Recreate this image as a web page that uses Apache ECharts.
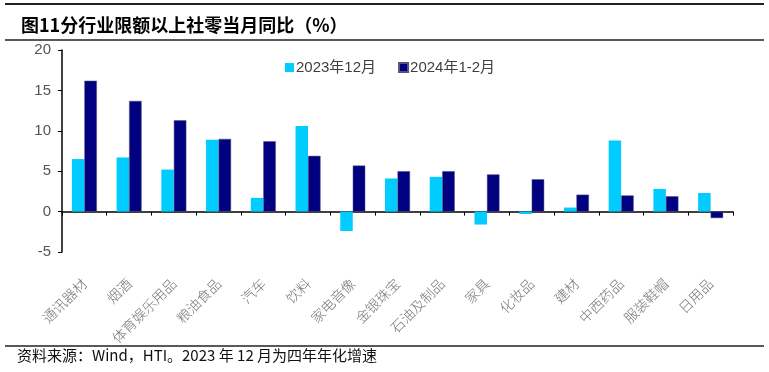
<!DOCTYPE html>
<html><head><meta charset="utf-8">
<script src="https://cdn.jsdelivr.net/npm/echarts@6/dist/echarts.min.js"></script>
<style>html,body{margin:0;padding:0;background:#fff}#c{width:769px;height:372px}</style>
</head><body><div id="c"></div>
<script>
const categories = ['通讯器材','烟酒','体育娱乐用品','粮油食品','汽车','饮料','家电音像','金银珠宝','石油及制品','家具','化妆品','建材','中西药品','服装鞋帽','日用品'];
const dec2023 = [6.5, 6.7, 5.2, 8.9, 1.7, 10.6, -2.4, 4.1, 4.3, -1.6, -0.3, 0.5, 8.8, 2.8, 2.3];
const janFeb2024 = [16.2, 13.7, 11.3, 9.0, 8.7, 6.9, 5.7, 5.0, 5.0, 4.6, 4.0, 2.1, 2.0, 1.9, -0.8];
const seriesNames = ['2023年12月', '2024年1-2月'];
const yTicks = {min: -5, max: 20, interval: 5};

const chart = echarts.init(document.getElementById('c'), null, {renderer: 'canvas'});
chart.setOption({
  animation: false,
  backgroundColor: '#fff',
  title: {
    text: '图11分行业限额以上社零当月同比（%）',
    left: 16, top: 11,
    textStyle: {fontFamily: 'Noto Sans CJK SC', fontSize: 18, fontWeight: 'bold', color: '#000'}
  },
  graphic: [
    {type: 'line', shape: {x1: 5, y1: 4, x2: 764, y2: 4}, style: {stroke: '#222', lineWidth: 2}},
    {type: 'line', shape: {x1: 5, y1: 40, x2: 764, y2: 40}, style: {stroke: '#222', lineWidth: 1.5}},
    {type: 'line', shape: {x1: 5, y1: 346, x2: 764, y2: 346}, style: {stroke: '#222', lineWidth: 1.5}},
    {type: 'text', left: 17, top: 348, style: {text: '资料来源：Wind，HTI。2023 年 12 月为四年年化增速', font: '15px "Noto Sans CJK SC"', fill: '#111'}}
  ],
  legend: {
    data: seriesNames,
    left: 280, top: 55,
    itemWidth: 9, itemHeight: 9, itemGap: 22,
    icon: 'rect',
    textStyle: {fontFamily: 'Liberation Sans, Noto Sans CJK SC', fontSize: 15, color: '#404040', padding: [0,0,0,-3]}
  },
  grid: {left: 62, right: 36, top: 50, bottom: 120},
  xAxis: {
    type: 'category',
    data: categories,
    axisLine: {onZero: true, lineStyle: {color: '#000', width: 1.5}},
    axisTick: {show: true, length: 4, inside: false, lineStyle: {color: '#000'}},
    axisLabel: {
      rotate: 45, margin: 29, interval: 0,
      fontFamily: 'Noto Sans CJK SC', fontSize: 14, fontWeight: 300, color: '#777'
    }
  },
  yAxis: {
    type: 'value',
    min: yTicks.min, max: yTicks.max, interval: yTicks.interval,
    splitLine: {show: false},
    axisLine: {show: true, lineStyle: {color: '#000', width: 1.5}},
    axisTick: {show: true, length: 4, lineStyle: {color: '#000'}},
    axisLabel: {fontFamily: 'Liberation Sans', fontSize: 15, color: '#555', margin: 11}
  },
  series: [
    {name: seriesNames[0], type: 'bar', data: dec2023, barWidth: 12.5, barGap: '0%',
     itemStyle: {color: '#00CCFF'}},
    {name: seriesNames[1], type: 'bar', data: janFeb2024, barWidth: 12.5, barGap: '0%',
     itemStyle: {color: '#000080', borderColor: '#55557a', borderWidth: 0.5}}
  ]
});
</script></body></html>
